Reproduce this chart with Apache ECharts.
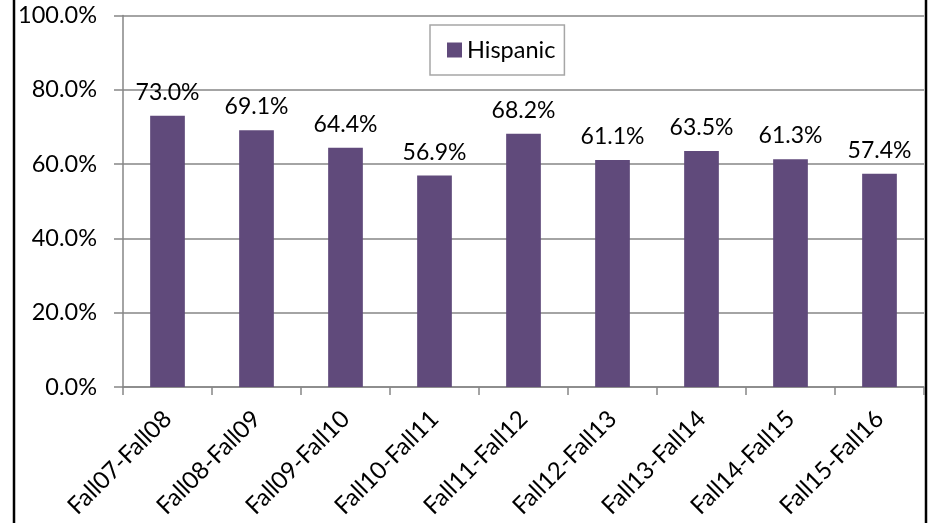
<!DOCTYPE html>
<html><head><meta charset="utf-8">
<script src="https://cdn.jsdelivr.net/npm/echarts@6/dist/echarts.min.js"></script>
<style>html,body{margin:0;padding:0;background:#fff}#c{width:935px;height:523px}</style>
</head><body><div id="c"></div>
<script>
const categories = ["Fall07-Fall08","Fall08-Fall09","Fall09-Fall10","Fall10-Fall11","Fall11-Fall12","Fall12-Fall13","Fall13-Fall14","Fall14-Fall15","Fall15-Fall16"];
const hispanic = [73.0, 69.1, 64.4, 56.9, 68.2, 61.1, 63.5, 61.3, 57.4];
const seriesName = "Hispanic";

const FONT = 'Lato';
const chart = echarts.init(document.getElementById('c'));
chart.setOption({
  animation: false,
  textStyle: {fontFamily: FONT},
  graphic: [
    {type:'line', shape:{x1:14, y1:0, x2:14, y2:523}, style:{stroke:'#000', lineWidth:2.5}},
    {type:'line', shape:{x1:926, y1:0, x2:926, y2:523}, style:{stroke:'#000', lineWidth:2.5}}
  ],
  legend: {
    data:[seriesName], left:430, top:25, orient:'horizontal',
    padding:[13,9,13,17], itemWidth:15, itemHeight:15, itemGap:8,
    borderColor:'#a6a6a6', borderWidth:1.5, icon:'rect',
    textStyle:{fontFamily:FONT, fontSize:23.5, color:'#000'}
  },
  grid: {left:123, top:15.5, right:11, bottom:136, containLabel:false},
  xAxis: {
    type:'category', data:categories,
    axisLine:{lineStyle:{color:'#868686', width:1.5}},
    axisTick:{show:true, length:8, lineStyle:{color:'#868686', width:1.5}},
    axisLabel:{rotate:45, fontSize:24, color:'#000', margin:28, fontFamily:FONT, interval:0}
  },
  yAxis: {
    type:'value', min:0, max:100, interval:20,
    axisLine:{show:true, lineStyle:{color:'#868686', width:1.5}},
    axisTick:{show:true, inside:false, length:9, lineStyle:{color:'#868686', width:1.5}},
    splitLine:{lineStyle:{color:'#868686', width:1.5}},
    axisLabel:{formatter:v=>v.toFixed(1)+'%', fontSize:23.5, color:'#000', margin:26, fontFamily:FONT}
  },
  series: [{
    name:seriesName, type:'bar', data:hispanic, barWidth:'39%',
    itemStyle:{color:'#604A7B'},
    label:{show:true, position:'top', distance:12, formatter:p=>p.value.toFixed(1)+'%', fontSize:23, color:'#000', fontFamily:FONT}
  }]
});
</script></body></html>
